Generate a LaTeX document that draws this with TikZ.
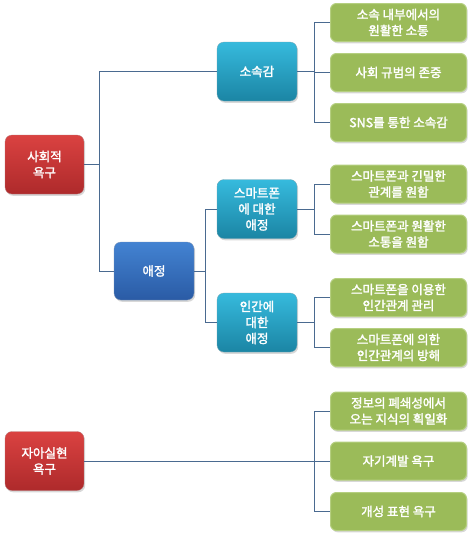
\documentclass[tikz,border=0pt]{standalone}
\usepackage{fontspec}
\setmainfont{Noto Sans CJK KR}[BoldFont={Noto Sans CJK KR}, BoldFeatures={FakeBold=2}]
\usetikzlibrary{shadows}
\definecolor{redT}{HTML}{DA4241}
\definecolor{redB}{HTML}{AE2A2B}
\definecolor{blueT}{HTML}{4383D2}
\definecolor{blueB}{HTML}{2A5BA5}
\definecolor{cyanT}{HTML}{36BADD}
\definecolor{cyanB}{HTML}{1B85A4}
\definecolor{grn}{HTML}{9BBB59}
\definecolor{grnE}{HTML}{B5CF80}
\definecolor{ln}{HTML}{4A6A90}
\begin{document}
\begin{tikzpicture}[x=1pt,y=-1pt,
  box/.style={rounded corners=7pt, text=white, font=\bfseries\fontsize{12.5}{16}\selectfont, align=center, inner sep=1pt,
     drop shadow={opacity=0.3, shadow xshift=1.2pt, shadow yshift=-1.8pt}},
  redbox/.style={box, top color=redT, bottom color=redB, draw=redB!80!black!60, line width=0.3pt, minimum width=79pt, minimum height=59pt},
  bluebox/.style={box, top color=blueT, bottom color=blueB, draw=blueB!80!black!60, line width=0.3pt, minimum width=80pt, minimum height=58pt},
  cyanbox/.style={box, top color=cyanT, bottom color=cyanB, draw=cyanB!80!black!60, line width=0.3pt, minimum width=80pt, minimum height=59pt},
  grnbox/.style={box, fill=grn, draw=grnE, line width=1pt, minimum width=136pt, minimum height=38pt, rounded corners=6pt},
  conn/.style={draw=ln, line width=0.8pt}]
\useasboundingbox (0,0) rectangle (472,539);
\fill[white] (0,0) rectangle (472,539);

\node[redbox] (sa) at (44.5,164.5) {사회적\\욕구};
\node[redbox] (ja) at (44.5,461) {자아실현\\욕구};
\node[cyanbox] (so) at (257,71.5) {소속감};
\node[bluebox] (ae) at (154,271) {애정};
\node[cyanbox] (sm) at (257,209) {스마트폰\\에 대한\\애정};
\node[cyanbox] (in) at (257,322.5) {인간에\\대한\\애정};

\node[grnbox] (g1) at (398.5,22.5) {소속 내부에서의\\원활한 소통};
\node[grnbox] (g2) at (398.5,72.5) {사회 규범의 존중};
\node[grnbox] (g3) at (398.5,122.5) {SNS를 통한 소속감};
\node[grnbox] (g4) at (398.5,184) {스마트폰과 긴밀한\\관계를 원함};
\node[grnbox] (g5) at (398.5,234) {스마트폰과 원활한\\소통을 원함};
\node[grnbox] (g6) at (398.5,297.5) {스마트폰을 이용한\\인간관계 관리};
\node[grnbox] (g7) at (398.5,347.5) {스마트폰에 의한\\인간관계의 방해};
\node[grnbox] (g8) at (398.5,411) {정보의 폐쇄성에서\\오는 지식의 획일화};
\node[grnbox] (g9) at (398.5,461) {자기계발 욕구};
\node[grnbox] (g10) at (398.5,511.5) {개성 표현 욕구};

\draw[conn] (sa.east) -- ++(15.5,0) |- (so.west);
\draw[conn] (sa.east) -- ++(15.5,0) |- (ae.west);
\draw[conn] (ae.east) -- ++(11.5,0) |- (sm.west);
\draw[conn] (ae.east) -- ++(11.5,0) |- (in.west);
\foreach \g in {g1,g2,g3}{\draw[conn] (so.east) -- ++(17,0) |- (\g.west);}
\foreach \g in {g4,g5}{\draw[conn] (sm.east) -- ++(17,0) |- (\g.west);}
\foreach \g in {g6,g7}{\draw[conn] (in.east) -- ++(17,0) |- (\g.west);}
\foreach \g in {g8,g10}{\draw[conn] (ja.east) -- ++(230,0) |- (\g.west);}
\draw[conn] (ja.east) -- (g9.west);
\end{tikzpicture}
\end{document}
